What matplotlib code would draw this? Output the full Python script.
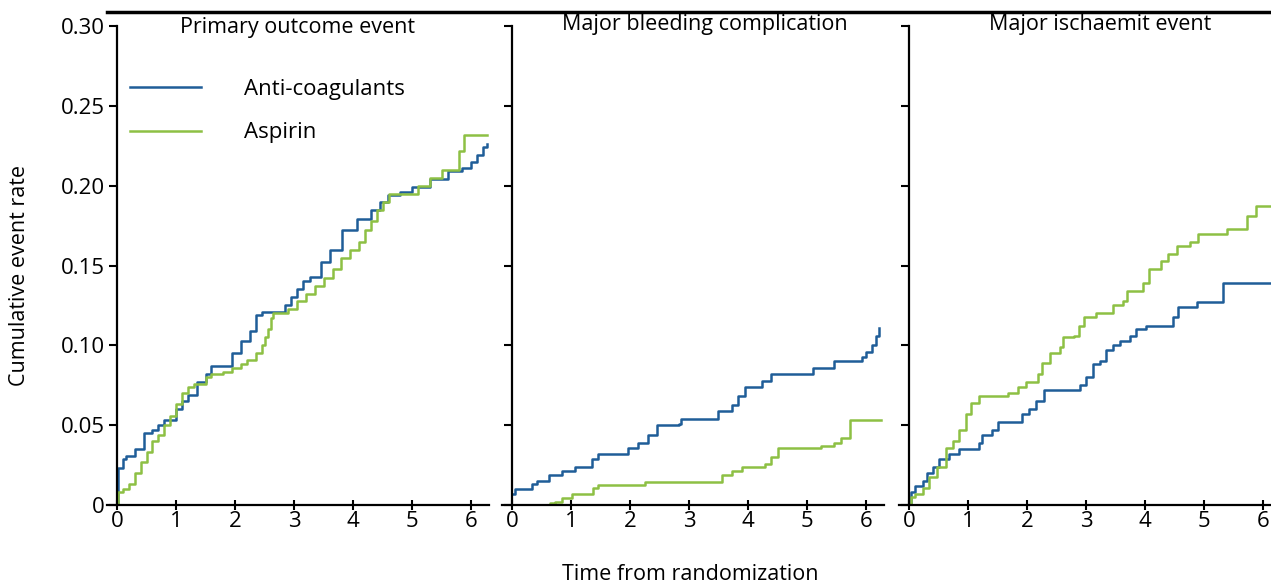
import matplotlib
matplotlib.use('Agg')
import matplotlib.pyplot as plt
from matplotlib.lines import Line2D

# Kaplan-Meier style cumulative event curves
titles = ['Primary outcome event', 'Major bleeding complication', 'Major ischaemit event']
series_names = ['Anti-coagulants', 'Aspirin']

# Primary outcome
prim_anti_t = [0, 0.02, 0.1, 0.15, 0.3, 0.45, 0.6, 0.7, 0.8, 1.0, 1.1, 1.2, 1.35, 1.5, 1.6, 1.95, 2.1, 2.25,
               2.35, 2.45, 2.85, 2.95, 3.05, 3.15, 3.27, 3.45, 3.61, 3.81, 4.06, 4.3, 4.45, 4.59, 4.8, 5.0,
               5.3, 5.6, 5.85, 6.0, 6.1, 6.2, 6.27]
prim_anti_y = [0, 0.023, 0.029, 0.031, 0.035, 0.045, 0.047, 0.05, 0.053, 0.06, 0.065, 0.069, 0.077, 0.082,
               0.087, 0.095, 0.103, 0.109, 0.119, 0.121, 0.125, 0.13, 0.135, 0.14, 0.143, 0.152, 0.16, 0.172,
               0.179, 0.185, 0.19, 0.194, 0.196, 0.199, 0.204, 0.209, 0.211, 0.215, 0.219, 0.224, 0.226]
prim_asp_t = [0, 0.02, 0.1, 0.2, 0.3, 0.4, 0.5, 0.6, 0.7, 0.8, 0.9, 1.0, 1.1, 1.2, 1.3, 1.5, 1.6, 1.8, 1.95,
              2.1, 2.2, 2.35, 2.45, 2.5, 2.55, 2.6, 2.65, 2.9, 3.05, 3.2, 3.35, 3.5, 3.65, 3.8, 3.95, 4.1, 4.2,
              4.3, 4.4, 4.5, 4.6, 5.1, 5.3, 5.5, 5.8, 5.88, 6.27]
prim_asp_y = [0, 0.008, 0.01, 0.013, 0.02, 0.027, 0.033, 0.04, 0.044, 0.05, 0.056, 0.063, 0.07, 0.074, 0.076,
              0.08, 0.082, 0.083, 0.086, 0.088, 0.091, 0.095, 0.1, 0.105, 0.11, 0.117, 0.12, 0.123, 0.128,
              0.132, 0.137, 0.142, 0.148, 0.155, 0.16, 0.165, 0.172, 0.178, 0.185, 0.19, 0.195, 0.2, 0.205,
              0.21, 0.222, 0.232, 0.232]

# Major bleeding
bleed_anti_t = [0, 0.05, 0.34, 0.42, 0.62, 0.85, 1.07, 1.35, 1.46, 1.97, 2.14, 2.31, 2.45, 2.82, 2.87, 3.49,
                3.72, 3.83, 3.94, 4.23, 4.39, 5.1, 5.46, 5.92, 6.0, 6.1, 6.17, 6.22]
bleed_anti_y = [0.007, 0.01, 0.013, 0.015, 0.0185, 0.021, 0.024, 0.029, 0.032, 0.036, 0.039, 0.044, 0.05,
                0.051, 0.054, 0.059, 0.0625, 0.068, 0.074, 0.0775, 0.082, 0.086, 0.09, 0.093, 0.096, 0.1,
                0.106, 0.111]
bleed_asp_t = [0, 0.65, 0.73, 0.85, 1.01, 1.38, 1.46, 2.25, 3.55, 3.72, 3.89, 4.28, 4.39, 4.5, 5.24, 5.46,
               5.58, 5.72, 6.25]
bleed_asp_y = [0, 0.001, 0.002, 0.0046, 0.007, 0.0104, 0.0127, 0.0144, 0.0185, 0.021, 0.024, 0.0255, 0.03,
               0.036, 0.037, 0.039, 0.042, 0.053, 0.053]

# Major ischaemic
isch_anti_t = [0, 0.03, 0.11, 0.23, 0.31, 0.4, 0.51, 0.68, 0.85, 1.19, 1.24, 1.41, 1.5, 1.92, 2.04, 2.15,
               2.29, 2.89, 3.0, 3.11, 3.23, 3.34, 3.45, 3.57, 3.74, 3.85, 4.02, 4.47, 4.56, 4.87, 5.32, 6.2]
isch_anti_y = [0, 0.008, 0.012, 0.015, 0.02, 0.024, 0.029, 0.032, 0.035, 0.039, 0.044, 0.047, 0.052, 0.057,
               0.06, 0.065, 0.072, 0.075, 0.08, 0.088, 0.09, 0.097, 0.1, 0.103, 0.106, 0.11, 0.112, 0.118,
               0.124, 0.127, 0.139, 0.139]
isch_asp_t = [0, 0.03, 0.11, 0.23, 0.34, 0.48, 0.62, 0.74, 0.85, 0.96, 1.05, 1.19, 1.67, 1.84, 1.98, 2.18,
              2.26, 2.38, 2.55, 2.6, 2.8, 2.88, 2.97, 3.17, 3.45, 3.62, 3.7, 3.96, 4.07, 4.27, 4.38, 4.53,
              4.75, 4.9, 5.38, 5.72, 5.88, 6.2]
isch_asp_y = [0, 0.005, 0.007, 0.0105, 0.0175, 0.024, 0.036, 0.04, 0.047, 0.057, 0.064, 0.068, 0.07, 0.074,
              0.077, 0.082, 0.089, 0.095, 0.099, 0.105, 0.106, 0.112, 0.118, 0.12, 0.125, 0.128, 0.134,
              0.139, 0.148, 0.153, 0.157, 0.162, 0.165, 0.17, 0.173, 0.181, 0.187, 0.187]

panels = [
    (prim_anti_t, prim_anti_y, prim_asp_t, prim_asp_y),
    (bleed_anti_t, bleed_anti_y, bleed_asp_t, bleed_asp_y),
    (isch_anti_t, isch_anti_y, isch_asp_t, isch_asp_y),
]

yticks = [0, 0.05, 0.10, 0.15, 0.20, 0.25, 0.30]
ytick_labels = ['0', '0.05', '0.10', '0.15', '0.20', '0.25', '0.30']
xticks = [0, 1, 2, 3, 4, 5, 6]

blue = '#1f5d98'
green = '#8dc044'

plt.rcParams['font.family'] = ['Open Sans', 'DejaVu Sans']

W, H = 1271, 583
fig = plt.figure(figsize=(W / 100, H / 100), dpi=100)

# axes positions in pixels: left, right, xmax
boxes = [(117, 489, 6.3), (512, 884, 6.3), (909, 1271, 6.13)]
y_top, y_bot = 26, 505
title_x = [298, 705, 1100]
title_top_px = [17, 14, 14]

axes = []
for i, (l, r, xmax) in enumerate(boxes):
    ax = fig.add_axes([l / W, 1 - y_bot / H, (r - l) / W, (y_bot - y_top) / H])
    at, ay, st, sy = panels[i]
    ax.plot(at, ay, drawstyle='steps-post', color=blue, lw=1.8, label=series_names[0])
    ax.plot(st, sy, drawstyle='steps-post', color=green, lw=1.8, label=series_names[1])
    ax.set_xlim(0, xmax)
    ax.set_ylim(0, 0.30)
    ax.spines['top'].set_visible(False)
    ax.spines['right'].set_visible(False)
    ax.spines['left'].set_linewidth(1.6)
    ax.spines['bottom'].set_linewidth(1.6)
    ax.spines['bottom'].set_bounds(-0.17, xmax)
    ax.set_xticks(xticks)
    ax.set_yticks(yticks)
    ax.tick_params(axis='x', direction='inout', length=7, width=1.5, labelsize=16, pad=1)
    ax.tick_params(axis='y', direction='out', length=6, width=1.5, labelsize=16, pad=3)
    if i == 0:
        ax.set_yticklabels(ytick_labels)
    else:
        ax.set_yticklabels([])
    fig.text(title_x[i] / W, 1 - title_top_px[i] / H, titles[i], ha='center', va='top', fontsize=15.5)
    for sp in ax.spines.values():
        sp.set_clip_on(False)
    axes.append(ax)

axes[0].legend(loc='upper left', bbox_to_anchor=(0.035, 0.89), frameon=False, fontsize=16,
               handlelength=3.2, handletextpad=1.95, labelspacing=1.02, borderpad=0, borderaxespad=0)

fig.text(20 / W, 1 - 275 / H, 'Cumulative event rate', rotation=90, ha='center', va='center', fontsize=15.5)
fig.text(690 / W, 1 - 574 / H, 'Time from randomization', ha='center', va='center', fontsize=15.5)

# black rule along the top of the figure
fig.add_artist(Line2D([107 / W, 1.0], [1 - 12 / H, 1 - 12 / H], color='black', lw=2.5))

fig.savefig('out.png', dpi=100)
